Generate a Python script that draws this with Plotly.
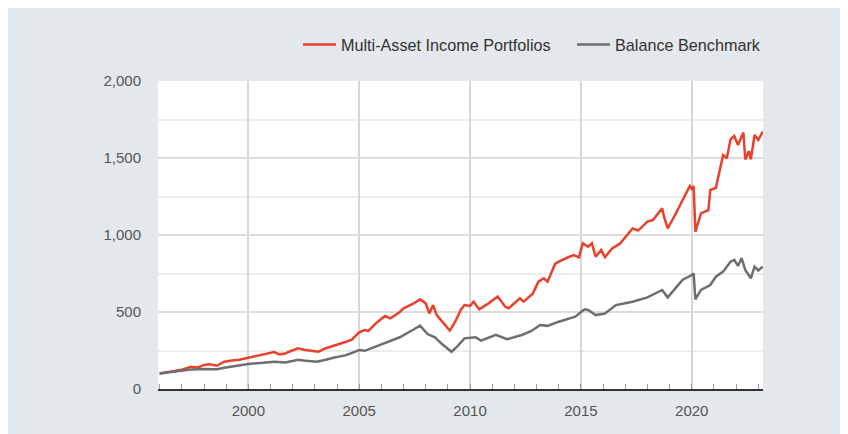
import plotly.graph_objects as go

# ---- data ----
income_dates = [
    "1995-12-31", "1996-07-01", "1997-01-01", "1997-06-01", "1997-10-01", "1998-01-01",
    "1998-04-01", "1998-08-01", "1998-12-01", "1999-04-01", "1999-08-01", "2000-01-01",
    "2000-06-01", "2000-11-01", "2001-03-01", "2001-06-01", "2001-09-01", "2001-11-01",
    "2002-04-01", "2002-07-01", "2002-10-01", "2003-01-01", "2003-03-01", "2003-07-01",
    "2003-11-01", "2004-03-01", "2004-06-01", "2004-09-01", "2005-01-01", "2005-04-01",
    "2005-06-01", "2005-10-01", "2006-03-01", "2006-06-01", "2006-11-01", "2007-01-01",
    "2007-06-01", "2007-10-01", "2008-01-01", "2008-03-01", "2008-05-01", "2008-07-01",
    "2008-10-01", "2009-02-01", "2009-05-01", "2009-08-01", "2009-10-01", "2010-01-01",
    "2010-03-01", "2010-06-01", "2010-11-01", "2011-04-01", "2011-08-01", "2011-10-01",
    "2012-04-01", "2012-06-01", "2012-11-01", "2013-02-01", "2013-05-01", "2013-07-01",
    "2013-11-01", "2014-01-01", "2014-05-01", "2014-09-01", "2014-12-01", "2015-02-01",
    "2015-05-01", "2015-07-01", "2015-09-01", "2015-12-01", "2016-02-01", "2016-06-01",
    "2016-10-01", "2017-01-01", "2017-05-01", "2017-08-01", "2018-01-01", "2018-04-01",
    "2018-09-01", "2018-10-01", "2018-12-01", "2019-04-01", "2019-08-01", "2019-12-01",
    "2020-01-01", "2020-02-01", "2020-03-01", "2020-06-01", "2020-10-01", "2020-11-01",
    "2021-02-01", "2021-06-01", "2021-08-01", "2021-10-01", "2021-12-01", "2022-02-01",
    "2022-05-01", "2022-06-01", "2022-08-01", "2022-09-01", "2022-11-01", "2023-01-01",
    "2023-03-15",
]
income_values = [
    100, 112, 125, 145, 140, 156,
    160, 151, 177, 185, 190, 203,
    215, 232, 240, 225, 230, 242,
    264, 255, 250, 247, 242, 265,
    279, 295, 307, 320, 368, 383,
    378, 426, 474, 459, 500, 524,
    552, 582, 556, 491, 545, 480,
    437, 379, 437, 513, 545, 539,
    567, 517, 556, 600, 535, 524,
    589, 567, 621, 697, 719, 697,
    812, 827, 849, 870, 855, 946,
    924, 946, 859, 903, 855, 914,
    942, 989, 1043, 1029, 1087, 1097,
    1173, 1119, 1043, 1130, 1227, 1318,
    1300, 1318, 1022, 1141, 1162, 1292,
    1305, 1519, 1498, 1621, 1643, 1584,
    1665, 1491, 1545, 1491, 1649, 1617,
    1671,
]

bench_dates = [
    "1995-12-31", "1996-07-01", "1997-01-01", "1997-06-01", "1998-01-01", "1998-08-01",
    "1998-12-01", "1999-06-01", "2000-01-01", "2000-09-01", "2001-03-01", "2001-09-01",
    "2002-04-01", "2002-07-01", "2003-02-01", "2003-07-01", "2003-11-01", "2004-06-01",
    "2005-01-01", "2005-04-01", "2005-10-01", "2006-04-01", "2006-11-01", "2007-06-01",
    "2007-10-01", "2008-02-01", "2008-06-01", "2008-10-01", "2009-03-01", "2009-06-01",
    "2009-10-01", "2010-04-01", "2010-07-01", "2011-03-01", "2011-09-01", "2012-05-01",
    "2012-10-01", "2013-03-01", "2013-07-01", "2014-01-01", "2014-10-01", "2015-03-01",
    "2015-05-01", "2015-09-01", "2016-02-01", "2016-08-01", "2017-05-01", "2018-01-01",
    "2018-09-01", "2018-12-01", "2019-05-01", "2019-08-01", "2020-01-01", "2020-02-01",
    "2020-03-01", "2020-06-01", "2020-11-01", "2021-02-01", "2021-06-01", "2021-10-01",
    "2021-12-01", "2022-02-01", "2022-04-01", "2022-06-01", "2022-09-01", "2022-11-01",
    "2023-01-01", "2023-03-15",
]
bench_values = [
    100, 108, 118, 127, 130, 128,
    138, 150, 163, 170, 177, 172,
    190, 185, 177, 190, 203, 220,
    253, 248, 275, 305, 336, 383,
    411, 357, 335, 290, 242, 275,
    329, 336, 314, 351, 323, 351,
    375, 416, 410, 437, 470, 517,
    513, 480, 490, 545, 567, 595,
    643, 595, 664, 708, 740, 751,
    582, 643, 675, 729, 762, 827,
    838, 799, 849, 773, 719, 795,
    770, 794,
]

series_names = ["Multi-Asset Income Portfolios", "Balance Benchmark"]
x_tick_vals = ["2000-01-01", "2005-01-01", "2010-01-01", "2015-01-01", "2020-01-01"]
x_tick_text = ["2000", "2005", "2010", "2015", "2020"]
y_tick_vals = [0, 500, 1000, 1500, 2000]
y_tick_text = ["0", "500", "1,000", "1,500", "2,000"]

RED = "#e8412c"
GREY = "#6e6e6e"
BG = "#e3e8ec"
FONT = "Liberation Sans, Arial, sans-serif"

fig = go.Figure()
fig.add_trace(go.Scatter(x=income_dates, y=income_values, mode="lines",
                         name=series_names[0], line=dict(color=RED, width=2.5),
                         legend="legend"))
fig.add_trace(go.Scatter(x=bench_dates, y=bench_values, mode="lines",
                         name=series_names[1], line=dict(color=GREY, width=2.5),
                         legend="legend2"))

W, H = 848, 434
L, R, T, B = 150, 93, 73, 53
pw, ph = W - L - R, H - T - B

leg_common = dict(orientation="h", xanchor="left", y=1 + (T - 37) / ph,
                  yanchor="middle", bgcolor="rgba(0,0,0,0)",
                  font=dict(family=FONT, size=16.2, color="#333333"), itemwidth=33)

fig.update_layout(
    width=W, height=H,
    margin=dict(l=L, r=R, t=T, b=B),
    paper_bgcolor=BG,
    plot_bgcolor="white",
    font=dict(family=FONT, size=15, color="#555555"),
    showlegend=True,
    legend=dict(x=(290 - L) / pw, **leg_common),
    legend2=dict(x=(564 - L) / pw, **leg_common),
    xaxis=dict(
        type="date",
        range=["1995-12-05", "2023-03-20"],
        tickmode="array", tickvals=x_tick_vals, ticktext=x_tick_text,
        showgrid=True, gridcolor="#d6d6d6", gridwidth=1.5,
        ticks="inside", ticklen=5, tickcolor="#999999",
        showline=True, linecolor="#333333", linewidth=2,
        ticklabelstandoff=7,
        minor=dict(dtick="M12", tick0="2000-01-01", ticks="inside", ticklen=5,
                   tickcolor="#999999", showgrid=False),
        zeroline=False, fixedrange=True,
    ),
    yaxis=dict(
        range=[0, 2000],
        tickmode="array", tickvals=y_tick_vals, ticktext=y_tick_text,
        showgrid=True, gridcolor="#dcdcdc", gridwidth=1.5,
        minor=dict(dtick=250, tick0=0, showgrid=True, gridcolor="#ececec", gridwidth=1.5),
        zeroline=False, showline=False, ticks="",
        ticklabelstandoff=16,
    ),
)

fig.write_html("out.html")
